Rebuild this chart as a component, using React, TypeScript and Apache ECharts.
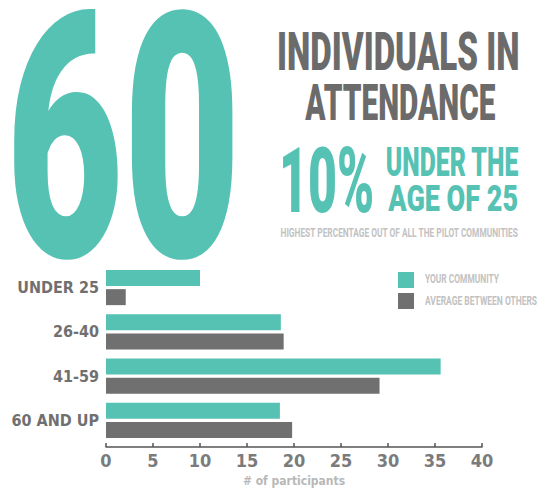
import React, { useEffect, useRef } from 'react';
import * as echarts from 'echarts';

const categories = ['UNDER 25', '26-40', '41-59', '60 AND UP'];
const yourCommunity = [10, 18.6, 35.6, 18.5];
const averageOthers = [2.1, 18.9, 29.1, 19.8];
const seriesNames = ['YOUR COMMUNITY', 'AVERAGE BETWEEN OTHERS'];
const xMin = 0;
const xMax = 40;
const xInterval = 5;
const axisName = '# of participants';
const bigNumber = '60';
const titleLines = ['INDIVIDUALS IN', 'ATTENDANCE'];
const percentText = '10%';
const percentLines = ['UNDER THE', 'AGE OF 25'];
const subtitle = 'HIGHEST PERCENTAGE OUT OF ALL THE PILOT COMMUNITIES';

const TEAL = '#56c2b4';
const BAR_GRAY = '#6f706f';
const TITLE_GRAY = '#6b6b6b';
const LIGHT = '#c2c2c2';
const FAMILY = 'Roboto';
const NARROW = "'DejaVu Sans Condensed', 'Roboto', sans-serif";

const measureCanvas = typeof document !== 'undefined' ? document.createElement('canvas') : null;

// Builds a text element whose ink box fills [left,right] x [capTop,baseline],
// condensing the font horizontally like the reference's narrow typeface.
function fitText(
  text: string,
  left: number,
  right: number,
  capTop: number,
  baseline: number,
  color: string,
  weight: number = 700
) {
  const ctx = measureCanvas!.getContext('2d')!;
  const refSize = 100;
  ctx.font = `${weight} ${refSize}px ${FAMILY}`;
  ctx.textBaseline = 'alphabetic';
  ctx.textAlign = 'left';
  const m = ctx.measureText(text);
  const capRatio = m.actualBoundingBoxAscent / refSize;
  const fontSize = (baseline - capTop) / capRatio;
  const k = fontSize / refSize;
  const inkW = (m.actualBoundingBoxLeft + m.actualBoundingBoxRight) * k;
  const scaleX = (right - left) / inkW;
  const x = left + m.actualBoundingBoxLeft * k * scaleX;
  const fa = (m as any).fontBoundingBoxAscent ?? 92.7;
  const fd = (m as any).fontBoundingBoxDescent ?? 24.4;
  const central = ((fa - fd) / 2) * k;
  const y = baseline - central;
  return {
    type: 'text',
    x,
    y,
    scaleX,
    scaleY: 1,
    silent: true,
    style: {
      text,
      fill: color,
      fontSize,
      fontWeight: weight,
      fontFamily: FAMILY,
      textAlign: 'left',
      align: 'left',
      textVerticalAlign: 'middle',
      verticalAlign: 'middle',
    },
  };
}

export default function App() {
  const ref = useRef<HTMLDivElement>(null);

  useEffect(() => {
    document.body.style.margin = '0';
    const chart = echarts.init(ref.current!, null, { renderer: 'svg' });

    const graphic: any[] = [
      fitText(bigNumber, 14, 233, 11, 258, TEAL, 900),
      fitText(titleLines[0], 279, 518, 32, 70, TITLE_GRAY, 900),
      fitText(titleLines[1], 305, 495, 84, 120, TITLE_GRAY, 900),
      fitText(percentText, 283, 372, 146, 212, TEAL, 900),
      fitText(percentLines[0], 387, 519, 147, 176, TEAL, 900),
      fitText(percentLines[1], 388, 517, 184, 211, TEAL, 900),
      fitText(subtitle, 281, 519, 227, 237, LIGHT, 700),
      { type: 'rect', shape: { x: 398, y: 272, width: 16, height: 16 }, style: { fill: TEAL }, silent: true },
      { type: 'rect', shape: { x: 398, y: 293, width: 16, height: 16 }, style: { fill: BAR_GRAY }, silent: true },
      fitText(seriesNames[0], 425, 499, 272.5, 282.5, LIGHT, 700),
      fitText(seriesNames[1], 425, 537, 294.5, 304.5, LIGHT, 700),
    ];

    chart.setOption({
      animation: false,
      grid: { left: 106, right: 57, top: 265.5, height: 183, containLabel: false },
      graphic,
      xAxis: {
        type: 'value',
        min: xMin,
        max: xMax,
        interval: xInterval,
        offset: 4.5,
        axisLine: { show: true, lineStyle: { color: '#555555', width: 1.5 } },
        axisTick: { show: true, inside: true, length: 4, lineStyle: { color: '#555555', width: 1.5 } },
        splitLine: { show: false },
        axisLabel: {
          color: '#7b7b7b',
          fontFamily: NARROW,
          fontWeight: 'bold',
          fontSize: 18,
          margin: 4,
        },
        name: axisName,
        nameLocation: 'middle',
        nameGap: 28,
        nameTextStyle: { color: '#b8b8b8', fontFamily: NARROW, fontWeight: 'bold', fontSize: 12 },
      },
      yAxis: {
        type: 'category',
        data: categories,
        inverse: true,
        axisLine: { show: false },
        axisTick: { show: false },
        splitLine: { show: false },
        axisLabel: {
          color: '#707070',
          fontFamily: NARROW,
          fontWeight: 'bold',
          fontSize: 16,
          margin: 7,
        },
      },
      series: [
        {
          name: seriesNames[0],
          type: 'bar',
          data: yourCommunity,
          barWidth: 16,
          barGap: '19%',
          itemStyle: { color: TEAL },
        },
        {
          name: seriesNames[1],
          type: 'bar',
          data: averageOthers,
          barWidth: 16,
          barGap: '19%',
          itemStyle: { color: BAR_GRAY },
        },
      ],
    });

    return () => chart.dispose();
  }, []);

  return <div ref={ref} style={{ width: 539, height: 488 }} />;
}
